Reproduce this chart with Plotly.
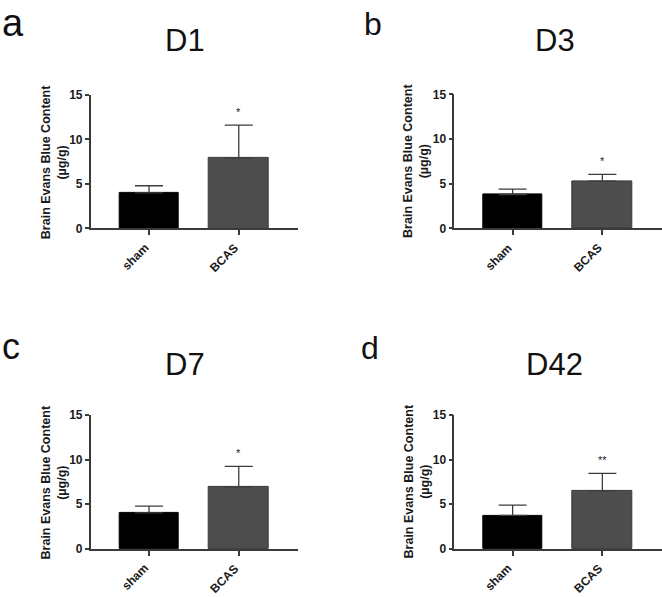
import plotly.graph_objects as go

W, H = 662, 597

days = ["D1", "D3", "D7", "D42"]
panel_letters = ["a", "b", "c", "d"]
groups = ["sham", "BCAS"]
sham_mean = [4.0, 3.8, 4.05, 3.75]
sham_sem = [0.8, 0.6, 0.75, 1.15]
bcas_mean = [7.9, 5.3, 6.95, 6.5]
bcas_sem = [3.7, 0.75, 2.3, 1.95]
sig_marks = ["*", "*", "*", "**"]
y_ticks = [0, 5, 10, 15]
y_title = "Brain Evans Blue Content<br>(µg/g)"

FONT = "Arial, Liberation Sans, sans-serif"

def px_x(p):
    return p / W

def px_y(p):
    return 1 - p / H

# panel geometry in pixels: (axis left, axis right, y top(15), y bottom(0))
geo = [
    (90.7, 298.0, 90.0, 226.8),
    (454.3, 661.6, 89.5, 226.8),
    (90.7, 298.0, 417.7, 555.0),
    (454.3, 661.6, 417.7, 555.0),
]
letter_pos = [(0, 16), (362, 17), (0, 348), (359, 349)]
letter_size = [38, 32, 36, 32]
title_pos = [(185, 34.5), (555, 34.5), (185, 366), (554, 366)]
ytitle_x = [53.5, 416.5, 53.5, 416.5]

fig = go.Figure()
layout = {}
annotations = []

for i in range(4):
    sfx = "" if i == 0 else str(i + 1)
    xa, ya = "x" + sfx, "y" + sfx
    fig.add_trace(go.Bar(
        x=[0, 1], y=[sham_mean[i], bcas_mean[i]],
        width=0.66,
        marker=dict(color=["#000000", "#4d4d4d"],
                    line=dict(color=["#000000", "#3a3a3a"], width=1)),
        error_y=dict(type="data", symmetric=False,
                     array=[sham_sem[i], bcas_sem[i]],
                     arrayminus=[0, 0],
                     color="#3c3c3c", thickness=1.3, width=14),
        xaxis=xa, yaxis=ya, showlegend=False, hoverinfo="skip",
    ))
    l, r, t, b = geo[i]
    layout["xaxis" + sfx] = dict(
        domain=[px_x(l), px_x(r)], range=[-0.65, 1.66],
        anchor=ya, showgrid=False, zeroline=False,
        showline=True, linecolor="#3a3a3a", linewidth=1.5,
        ticks="outside", ticklen=5, tickcolor="#3a3a3a", tickwidth=1.5,
        tickmode="array", tickvals=[0, 1], showticklabels=False,
        fixedrange=True,
    )
    layout["yaxis" + sfx] = dict(
        domain=[px_y(b), px_y(t)], range=[0, 15],
        anchor=xa, showgrid=False, zeroline=False,
        showline=True, linecolor="#3a3a3a", linewidth=1.5,
        ticks="outside", ticklen=4, tickcolor="#3a3a3a", tickwidth=1.5,
        tickmode="array", tickvals=y_ticks, ticktext=["<b>%d</b>" % v for v in y_ticks],
        tickfont=dict(family=FONT, size=12, color="#1a1a1a"),
        fixedrange=True,
    )
    # rotated category labels
    for k, g in enumerate(groups):
        annotations.append(dict(
            x=k, y=px_y(b + 10), xref=xa, yref="paper",
            text="<b>%s</b>" % g, showarrow=False, textangle=-45,
            xanchor="right", yanchor="top", xshift=5,
            font=dict(family=FONT, size=12, color="#1a1a1a"),
        ))
    # significance mark
    annotations.append(dict(
        x=1, y=bcas_mean[i] + bcas_sem[i] + 1.8, xref=xa, yref=ya,
        text=sig_marks[i], showarrow=False, yanchor="middle", yshift=-3,
        font=dict(family=FONT, size=11, color="#1a1a1a"),
    ))
    # y axis title
    annotations.append(dict(
        x=px_x(ytitle_x[i]), y=px_y((t + b) / 2), xref="paper", yref="paper",
        text="<b>%s</b>" % y_title, showarrow=False, textangle=-90,
        xanchor="center", yanchor="middle",
        font=dict(family=FONT, size=12.5, color="#1a1a1a"),
    ))
    # panel title
    annotations.append(dict(
        x=px_x(title_pos[i][0]), y=px_y(title_pos[i][1]), xref="paper", yref="paper",
        text=days[i], showarrow=False, xanchor="center", yanchor="middle",
        font=dict(family=FONT, size=31, color="#111111"),
    ))
    # panel letter
    annotations.append(dict(
        x=px_x(letter_pos[i][0]), y=px_y(letter_pos[i][1]), xref="paper", yref="paper",
        text=panel_letters[i], showarrow=False, xanchor="left", yanchor="middle",
        font=dict(family=FONT, size=letter_size[i], color="#111111"),
    ))

fig.update_layout(
    width=W, height=H, margin=dict(l=0, r=0, t=0, b=0),
    paper_bgcolor="white", plot_bgcolor="white",
    bargap=0, annotations=annotations, **layout,
)

fig.write_html(
    "out.html",
    config={"displayModeBar": False},
    post_script="document.body.style.margin='0';document.body.style.overflow='hidden';",
)
